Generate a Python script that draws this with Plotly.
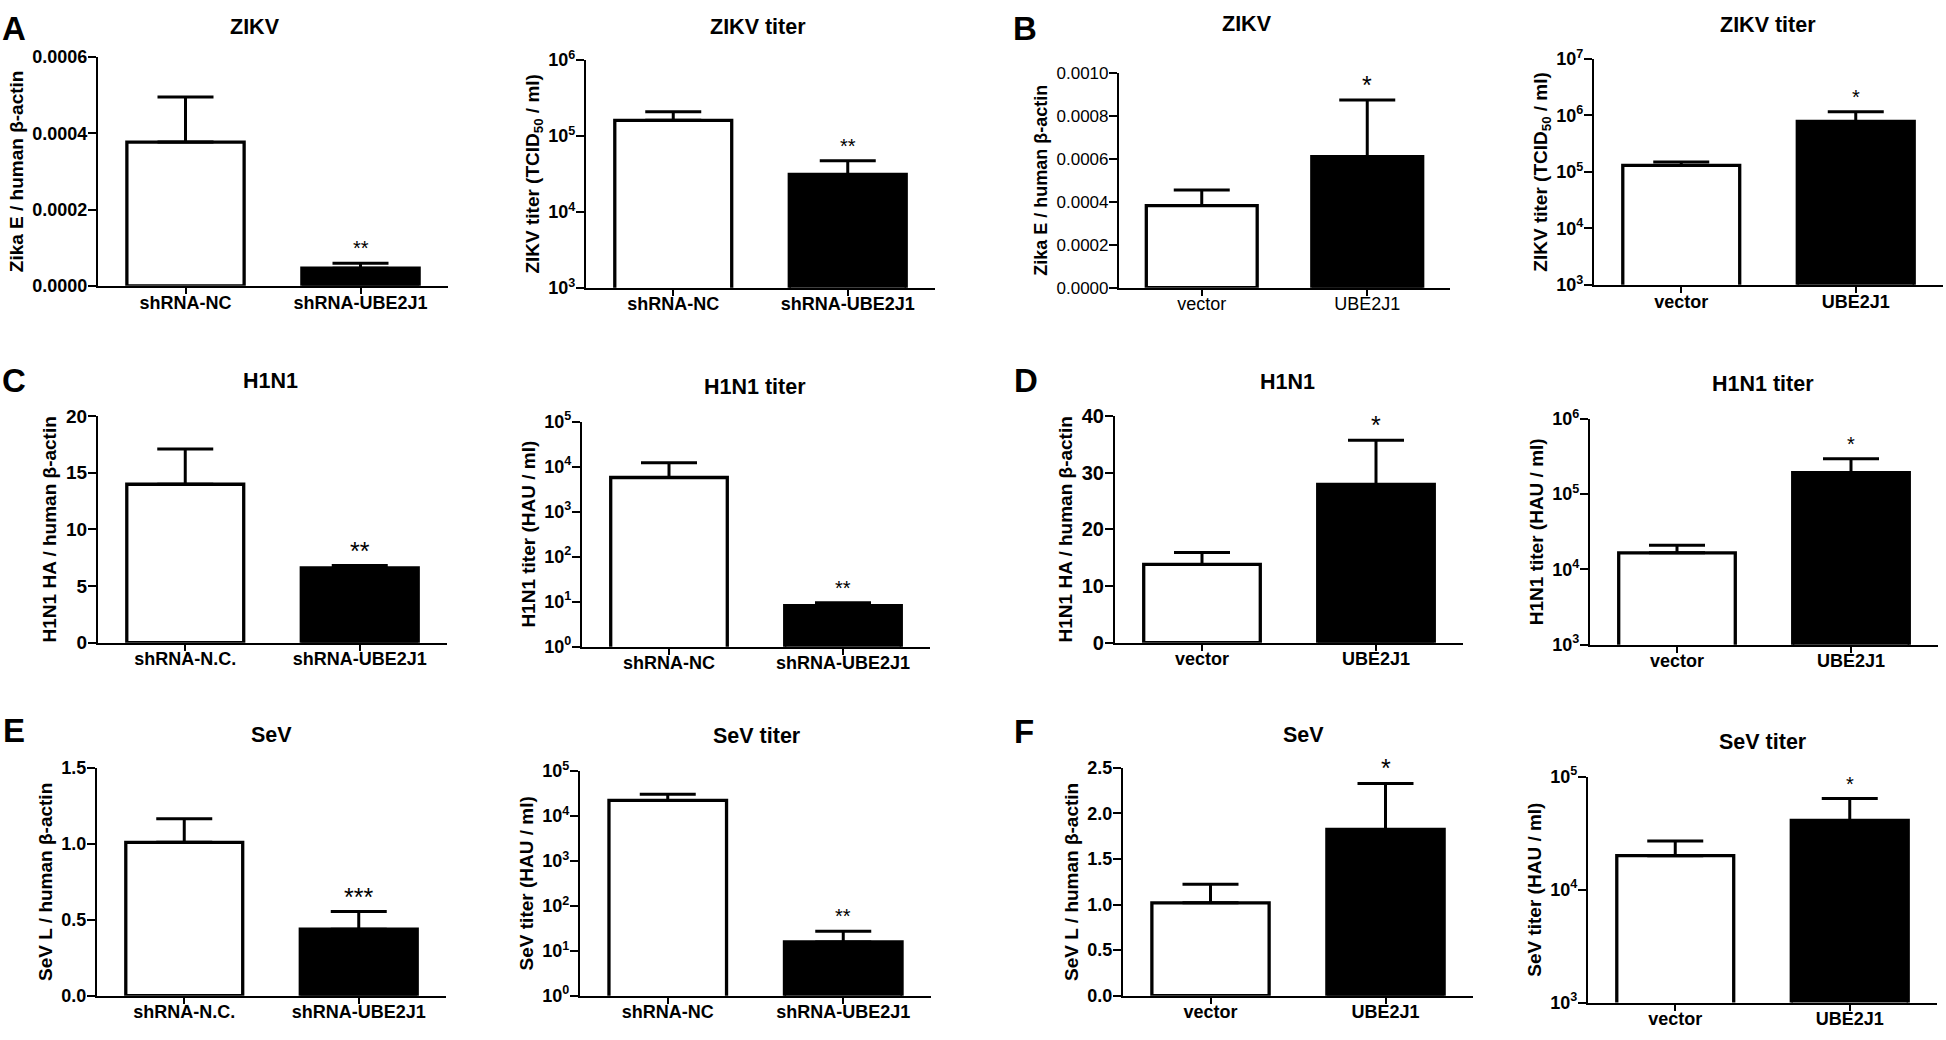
import numpy as np
import plotly.graph_objects as go

# ---------------- data ----------------
kd_groups_nc = ["shRNA-NC", "shRNA-UBE2J1"]
kd_groups_ncdot = ["shRNA-N.C.", "shRNA-UBE2J1"]
oe_groups = ["vector", "UBE2J1"]

# A: ZIKV, knockdown
zikv_kd_rna = [0.000377, 0.000046]
zikv_kd_rna_err = [0.000118, 0.000013]
zikv_kd_titer = [1.6e5, 3.1e4]
zikv_kd_titer_err = [4.7e4, 1.6e4]
# B: ZIKV, overexpression
zikv_oe_rna = [0.000382, 0.000609]
zikv_oe_rna_err = [0.000073, 0.000264]
zikv_oe_titer = [1.3e5, 7.8e5]
zikv_oe_titer_err = [2.0e4, 3.8e5]
# C: H1N1, knockdown
h1n1_kd_rna = [13.97, 6.6]
h1n1_kd_rna_err = [3.1, 0.2]
h1n1_kd_titer = [5.75e3, 8.2]
h1n1_kd_titer_err = [6.45e3, 1.3]
# D: H1N1, overexpression
h1n1_oe_rna = [13.8, 27.9]
h1n1_oe_rna_err = [2.1, 7.8]
h1n1_oe_titer = [1.66e4, 1.93e5]
h1n1_oe_titer_err = [4.4e3, 1.01e5]
# E: SeV, knockdown
sev_kd_rna = [1.01, 0.438]
sev_kd_rna_err = [0.155, 0.116]
sev_kd_titer = [2.2e4, 15.7]
sev_kd_titer_err = [8.0e3, 11.3]
# F: SeV, overexpression
sev_oe_rna = [1.02, 1.824]
sev_oe_rna_err = [0.203, 0.506]
sev_oe_titer = [2.0e4, 4.1e4]
sev_oe_titer_err = [7.0e3, 2.3e4]

# significance labels
stars_A1 = ["", "**"]; stars_A2 = ["", "**"]
stars_B1 = ["", "*"]; stars_B2 = ["", "*"]
stars_C1 = ["", "**"]; stars_C2 = ["", "**"]
stars_D1 = ["", "*"]; stars_D2 = ["", "*"]
stars_E1 = ["", "***"]; stars_E2 = ["", "**"]
stars_F1 = ["", "*"]; stars_F2 = ["", "*"]

# tick labels
ticks_A1 = [0, 0.0002, 0.0004, 0.0006]; ticklab_A1 = ["0.0000", "0.0002", "0.0004", "0.0006"]
ticks_B1 = [0, 0.0002, 0.0004, 0.0006, 0.0008, 0.0010]
ticklab_B1 = ["0.0000", "0.0002", "0.0004", "0.0006", "0.0008", "0.0010"]
ticks_C1 = [0, 5, 10, 15, 20]; ticklab_C1 = ["0", "5", "10", "15", "20"]
ticks_D1 = [0, 10, 20, 30, 40]; ticklab_D1 = ["0", "10", "20", "30", "40"]
ticks_E1 = [0, 0.5, 1.0, 1.5]; ticklab_E1 = ["0.0", "0.5", "1.0", "1.5"]
ticks_F1 = [0, 0.5, 1.0, 1.5, 2.0, 2.5]; ticklab_F1 = ["0.0", "0.5", "1.0", "1.5", "2.0", "2.5"]

lbl_rna_zikv = "Zika E / human β-actin"
lbl_titer_zikv = "ZIKV titer (TCID<sub>50</sub> / ml)"
lbl_rna_h1n1 = "H1N1 HA / human β-actin"
lbl_titer_h1n1 = "H1N1 titer (HAU / ml)"
lbl_rna_sev = "SeV L / human β-actin"
lbl_titer_sev = "SeV titer (HAU / ml)"

panels = [
    dict(title="ZIKV", cats=kd_groups_nc, y=zikv_kd_rna, e=zikv_kd_rna_err, stars=stars_A1,
         ylab=lbl_rna_zikv, log=False, rng=[0, 0.0006], tv=ticks_A1, tt=ticklab_A1),
    dict(title="ZIKV titer", cats=kd_groups_nc, y=zikv_kd_titer, e=zikv_kd_titer_err, stars=stars_A2,
         ylab=lbl_titer_zikv, log=True, rng=[3, 6]),
    dict(title="ZIKV", cats=oe_groups, y=zikv_oe_rna, e=zikv_oe_rna_err, stars=stars_B1,
         ylab=lbl_rna_zikv, log=False, rng=[0, 0.0010], tv=ticks_B1, tt=ticklab_B1),
    dict(title="ZIKV titer", cats=oe_groups, y=zikv_oe_titer, e=zikv_oe_titer_err, stars=stars_B2,
         ylab=lbl_titer_zikv, log=True, rng=[3, 7]),
    dict(title="H1N1", cats=kd_groups_ncdot, y=h1n1_kd_rna, e=h1n1_kd_rna_err, stars=stars_C1,
         ylab=lbl_rna_h1n1, log=False, rng=[0, 20], tv=ticks_C1, tt=ticklab_C1),
    dict(title="H1N1 titer", cats=kd_groups_nc, y=h1n1_kd_titer, e=h1n1_kd_titer_err, stars=stars_C2,
         ylab=lbl_titer_h1n1, log=True, rng=[0, 5]),
    dict(title="H1N1", cats=oe_groups, y=h1n1_oe_rna, e=h1n1_oe_rna_err, stars=stars_D1,
         ylab=lbl_rna_h1n1, log=False, rng=[0, 40], tv=ticks_D1, tt=ticklab_D1),
    dict(title="H1N1 titer", cats=oe_groups, y=h1n1_oe_titer, e=h1n1_oe_titer_err, stars=stars_D2,
         ylab=lbl_titer_h1n1, log=True, rng=[3, 6]),
    dict(title="SeV", cats=kd_groups_ncdot, y=sev_kd_rna, e=sev_kd_rna_err, stars=stars_E1,
         ylab=lbl_rna_sev, log=False, rng=[0, 1.5], tv=ticks_E1, tt=ticklab_E1),
    dict(title="SeV titer", cats=kd_groups_nc, y=sev_kd_titer, e=sev_kd_titer_err, stars=stars_E2,
         ylab=lbl_titer_sev, log=True, rng=[0, 5]),
    dict(title="SeV", cats=oe_groups, y=sev_oe_rna, e=sev_oe_rna_err, stars=stars_F1,
         ylab=lbl_rna_sev, log=False, rng=[0, 2.5], tv=ticks_F1, tt=ticklab_F1),
    dict(title="SeV titer", cats=oe_groups, y=sev_oe_titer, e=sev_oe_titer_err, stars=stars_F2,
         ylab=lbl_titer_sev, log=True, rng=[3, 5]),
]

# ---------------- layout / styling ----------------
W, H = 1946, 1040
# plot boxes in pixels: (x0, x1, ytop, ybottom)
boxes = [
    (98, 448, 46, 280), (586, 935, 49, 282), (1119, 1450, 62, 282), (1594, 1943, 48, 279),
    (98, 447, 413, 645), (582, 930, 419, 649), (1115, 1463, 413, 645), (1590, 1938, 416, 647),
    (97, 446, 773, 1006), (580, 931, 776, 1006), (1123, 1473, 773, 1006), (1588, 1937, 782, 1013),
]
title_pos = [(255, 15), (758, 15), (1247, 12), (1768, 13),
             (270, 377), (755, 383), (1287, 378), (1763, 380),
             (271, 739), (757, 740), (1303, 739), (1763, 747)]
star_size = [20, 20, 25, 20, 25, 20, 25, 20, 25, 20, 25, 20]
tick_size = [18, 18, 17, 18, 19, 18, 20, 18, 18, 18, 18, 18]
ytitle_size = [19, 19, 18, 19, 19, 19, 19, 19, 19, 19, 19, 19]
letters = [("A", 14, 17), ("B", 1025, 17), ("C", 14, 377), ("D", 1026, 377), ("E", 14, 735), ("F", 1024, 736)]

FONT = "Liberation Sans, Arial, sans-serif"
fig = go.Figure()
annotations = []

for i, p in enumerate(panels):
    n = i + 1
    xa = "x" if n == 1 else f"x{n}"
    ya = "y" if n == 1 else f"y{n}"
    x0, x1, yt, yb = boxes[i]
    weight = "normal" if i == 2 else "bold"
    fig.add_trace(go.Bar(
        x=p["cats"], y=p["y"], xaxis=xa, yaxis=ya, width=0.67,
        marker=dict(color=["white", "black"], line=dict(color="black", width=3.3)),
        error_y=dict(type="data", symmetric=False, array=p["e"], arrayminus=[0, 0],
                     color="black", thickness=3, width=28),
        showlegend=False, hoverinfo="skip",
    ))
    xkey = "xaxis" if n == 1 else f"xaxis{n}"
    ykey = "yaxis" if n == 1 else f"yaxis{n}"
    xaxis = dict(domain=[x0 / W, x1 / W], anchor=ya, range=[-0.5, 1.5], type="category",
                 showline=True, linecolor="black", linewidth=2.2, ticks="outside", ticklen=6,
                 tickwidth=2.2, tickcolor="black", showgrid=False, zeroline=False, fixedrange=True,
                 ticklabelstandoff=-7,
                 tickfont=dict(family=FONT, size=18, color="black", weight=weight))
    yaxis = dict(domain=[1 - yb / H, 1 - yt / H], anchor=xa, range=p["rng"],
                 showline=True, linecolor="black", linewidth=2.2, ticks="outside", ticklen=8,
                 tickwidth=2.2, tickcolor="black", showgrid=False, zeroline=False, fixedrange=True,
                 ticklabelstandoff=-3,
                 tickfont=dict(family=FONT, size=tick_size[i], color="black", weight=weight),
                 title=dict(text=p["ylab"],
                            font=dict(family=FONT, size=ytitle_size[i], color="black", weight="bold"),
                            standoff=4))
    if p["log"]:
        exps = list(range(int(p["rng"][0]), int(p["rng"][1]) + 1))
        yaxis.update(type="log", tickvals=[10.0 ** k for k in exps],
                     ticktext=[f"10<sup>{k}</sup>" for k in exps])
    else:
        yaxis.update(type="linear", tickvals=p["tv"], ticktext=p["tt"])
    fig.update_layout(**{xkey: xaxis, ykey: yaxis})

    # significance stars above error bars
    for c, v, e, s in zip(p["cats"], p["y"], p["e"], p["stars"]):
        if not s:
            continue
        top = v + e
        annotations.append(dict(
            x=c, y=np.log10(top) if p["log"] else top, xref=xa, yref=ya,
            text=s, showarrow=False, yanchor="middle", yshift=15,
            font=dict(family=FONT, size=star_size[i], color="black")))

    tx, ty = title_pos[i]
    annotations.append(dict(x=tx / W, y=1 - ty / H, xref="paper", yref="paper", text=p["title"],
                            showarrow=False, xanchor="center", yanchor="middle",
                            font=dict(family=FONT, size=21.5, color="black", weight="bold")))

for L, lx, ly in letters:
    annotations.append(dict(x=lx / W, y=1 - ly / H, xref="paper", yref="paper", text=L,
                            showarrow=False, xanchor="center", yanchor="middle",
                            font=dict(family=FONT, size=33, color="black", weight="bold")))

fig.update_layout(width=W, height=H, margin=dict(l=0, r=0, t=0, b=0),
                  paper_bgcolor="white", plot_bgcolor="white", annotations=annotations,
                  bargap=0.3)

fig.write_html("out.html", config={"displayModeBar": False},
               post_script="document.body.style.margin='0';document.body.style.overflow='hidden';")
